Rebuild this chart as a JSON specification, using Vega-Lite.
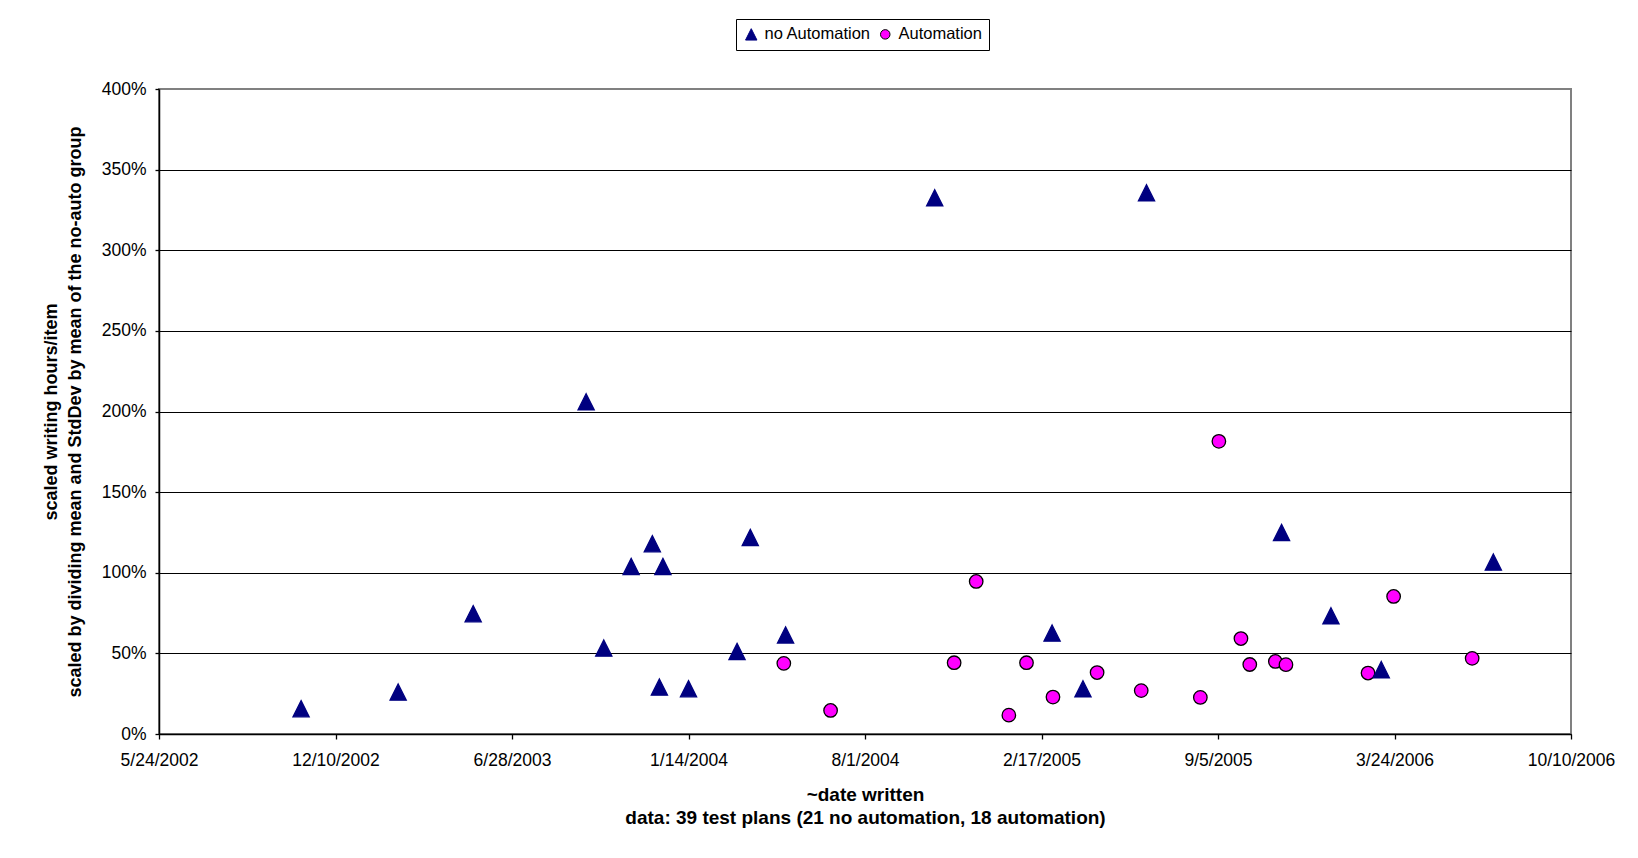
{
  "$schema": "https://vega.github.io/schema/vega-lite/v6.json",
  "width": 1412,
  "height": 645,
  "autosize": {"type": "none"},
  "padding": {"left": 159, "top": 89, "right": 67, "bottom": 124},
  "background": "white",
  "config": {
    "font": "Liberation Sans",
    "view": {"stroke": "#808080", "strokeWidth": 2}
  },
  "data": {
    "values": [
      {"date": "2004-05-01", "value": 0.438, "group": "Automation"},
      {"date": "2004-06-23", "value": 0.146, "group": "Automation"},
      {"date": "2004-11-10", "value": 0.442, "group": "Automation"},
      {"date": "2004-12-05", "value": 0.946, "group": "Automation"},
      {"date": "2005-01-11", "value": 0.117, "group": "Automation"},
      {"date": "2005-01-31", "value": 0.442, "group": "Automation"},
      {"date": "2005-03-02", "value": 0.229, "group": "Automation"},
      {"date": "2005-04-21", "value": 0.381, "group": "Automation"},
      {"date": "2005-06-10", "value": 0.269, "group": "Automation"},
      {"date": "2005-08-16", "value": 0.227, "group": "Automation"},
      {"date": "2005-09-06", "value": 1.815, "group": "Automation"},
      {"date": "2005-10-01", "value": 0.592, "group": "Automation"},
      {"date": "2005-10-11", "value": 0.431, "group": "Automation"},
      {"date": "2005-11-09", "value": 0.45, "group": "Automation"},
      {"date": "2005-11-21", "value": 0.43, "group": "Automation"},
      {"date": "2006-02-22", "value": 0.378, "group": "Automation"},
      {"date": "2006-03-23", "value": 0.853, "group": "Automation"},
      {"date": "2006-06-20", "value": 0.469, "group": "Automation"},
      {"date": "2002-11-01", "value": 0.157, "group": "no Automation"},
      {"date": "2003-02-19", "value": 0.26, "group": "no Automation"},
      {"date": "2003-05-15", "value": 0.746, "group": "no Automation"},
      {"date": "2003-09-20", "value": 2.06, "group": "no Automation"},
      {"date": "2003-10-10", "value": 0.533, "group": "no Automation"},
      {"date": "2003-11-10", "value": 1.039, "group": "no Automation"},
      {"date": "2003-12-04", "value": 1.18, "group": "no Automation"},
      {"date": "2003-12-16", "value": 1.039, "group": "no Automation"},
      {"date": "2003-12-12", "value": 0.291, "group": "no Automation"},
      {"date": "2004-01-14", "value": 0.281, "group": "no Automation"},
      {"date": "2004-03-09", "value": 0.512, "group": "no Automation"},
      {"date": "2004-03-24", "value": 1.219, "group": "no Automation"},
      {"date": "2004-05-03", "value": 0.614, "group": "no Automation"},
      {"date": "2004-10-19", "value": 3.325, "group": "no Automation"},
      {"date": "2005-06-16", "value": 3.356, "group": "no Automation"},
      {"date": "2005-03-01", "value": 0.626, "group": "no Automation"},
      {"date": "2005-04-05", "value": 0.28, "group": "no Automation"},
      {"date": "2005-11-16", "value": 1.25, "group": "no Automation"},
      {"date": "2006-01-11", "value": 0.733, "group": "no Automation"},
      {"date": "2006-03-09", "value": 0.399, "group": "no Automation"},
      {"date": "2006-07-14", "value": 1.066, "group": "no Automation"}
    ]
  },
  "mark": {"type": "point", "filled": true, "size": 182, "strokeWidth": 1.3, "opacity": 1},
  "encoding": {
    "x": {
      "field": "date",
      "type": "temporal",
      "scale": {
        "type": "utc",
        "domain": [
          {"year": 2002, "month": 5, "date": 24, "utc": true},
          {"year": 2006, "month": 10, "date": 10, "utc": true}
        ]
      },
      "axis": {
        "values": [
          {"year": 2002, "month": 5, "date": 24, "utc": true},
          {"year": 2002, "month": 12, "date": 10, "utc": true},
          {"year": 2003, "month": 6, "date": 28, "utc": true},
          {"year": 2004, "month": 1, "date": 14, "utc": true},
          {"year": 2004, "month": 8, "date": 1, "utc": true},
          {"year": 2005, "month": 2, "date": 17, "utc": true},
          {"year": 2005, "month": 9, "date": 5, "utc": true},
          {"year": 2006, "month": 3, "date": 24, "utc": true},
          {"year": 2006, "month": 10, "date": 10, "utc": true}
        ],
        "labelExpr": "utcFormat(datum.value, '%-m/%-d/%Y')",
        "labelFontSize": 17.5,
        "labelColor": "black",
        "labelPadding": 12,
        "labelOverlap": false,
        "labelFlush": false,
        "tickSize": 5,
        "tickColor": "black",
        "tickWidth": 1.3,
        "domainColor": "black",
        "domainWidth": 1.5,
        "grid": false,
        "title": ["~date written", "data:  39 test plans (21 no automation, 18 automation)"],
        "titleFontSize": 19,
        "titleFontWeight": "bold",
        "titleColor": "black",
        "titleX": 706,
        "titleY": 51,
        "titleAlign": "center",
        "titleBaseline": "top",
        "titleLineHeight": 23
      }
    },
    "y": {
      "field": "value",
      "type": "quantitative",
      "scale": {"domain": [0, 4], "nice": false},
      "axis": {
        "values": [0, 0.5, 1, 1.5, 2, 2.5, 3, 3.5, 4],
        "format": ".0%",
        "labelFontSize": 17.5,
        "labelColor": "black",
        "labelPadding": 9,
        "tickSize": 4,
        "tickColor": "black",
        "tickWidth": 1.3,
        "domainColor": "black",
        "domainWidth": 1.5,
        "grid": true,
        "gridColor": {"condition": {"test": "datum.value >= 4", "value": "#808080"}, "value": "#000000"},
        "gridWidth": 1.2,
        "title": ["scaled writing hours/item", "scaled by dividing mean and StdDev by mean of the no-auto group"],
        "titleFontSize": 18,
        "titleFontWeight": "bold",
        "titleColor": "black",
        "titleX": -107.5,
        "titleY": 322.5,
        "titleAngle": 270,
        "titleAlign": "center",
        "titleBaseline": "middle",
        "titleLineHeight": 24
      }
    },
    "shape": {
      "field": "group",
      "type": "nominal",
      "scale": {"domain": ["no Automation", "Automation"], "range": ["M0,-1.2L1.2,1.2L-1.2,1.2Z", "circle"]},
      "legend": {"title": null, "orient": "none", "legendX": 577, "legendY": -70, "direction": "horizontal", "columns": 2, "strokeColor": "black", "fillColor": "white", "padding": 7, "labelFontSize": 16.5, "labelColor": "black", "symbolSize": 90, "symbolStrokeWidth": 1, "labelOffset": 5, "columnPadding": 6}
    },
    "color": {
      "field": "group",
      "type": "nominal",
      "scale": {"domain": ["no Automation", "Automation"], "range": ["#000080", "#FF00FF"]},
      "legend": {"title": null, "orient": "none", "legendX": 577, "legendY": -70, "direction": "horizontal", "columns": 2, "strokeColor": "black", "fillColor": "white", "padding": 7, "labelFontSize": 16.5, "labelColor": "black", "symbolSize": 90, "symbolStrokeWidth": 1, "labelOffset": 5, "columnPadding": 6}
    },
    "stroke": {
      "field": "group",
      "type": "nominal",
      "scale": {"domain": ["no Automation", "Automation"], "range": ["#000080", "#000000"]},
      "legend": {"title": null, "orient": "none", "legendX": 577, "legendY": -70, "direction": "horizontal", "columns": 2, "strokeColor": "black", "fillColor": "white", "padding": 7, "labelFontSize": 16.5, "labelColor": "black", "symbolSize": 90, "symbolStrokeWidth": 1, "labelOffset": 5, "columnPadding": 6}
    }
  }
}
